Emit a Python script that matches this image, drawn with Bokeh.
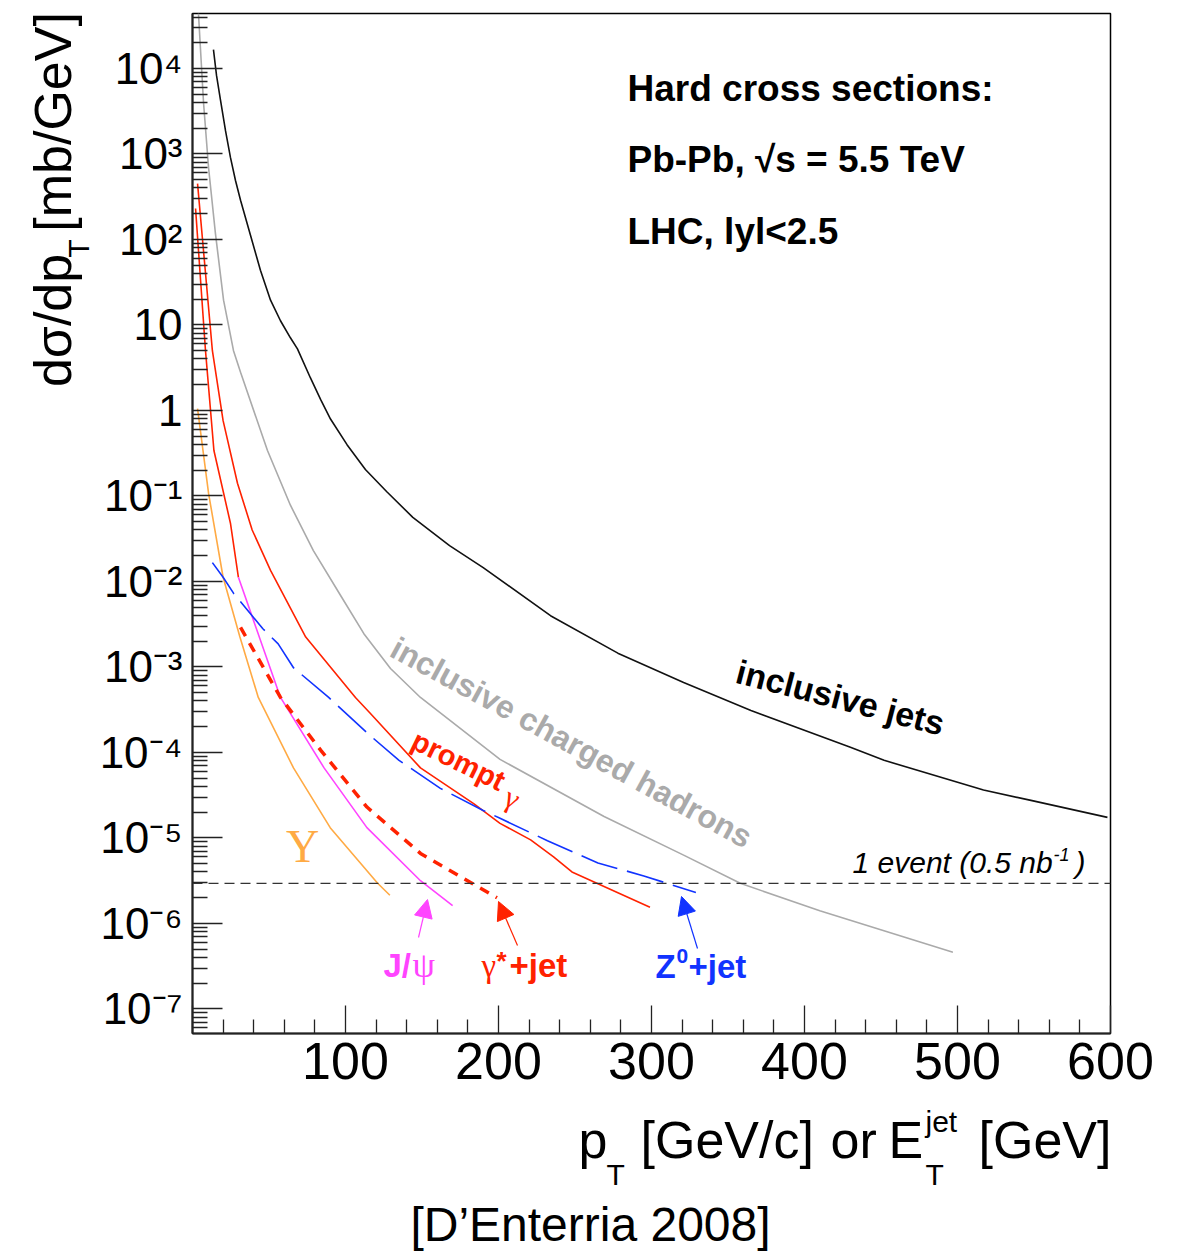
from bokeh.plotting import figure
from bokeh.layouts import row, column
from bokeh.models import Range1d, FixedTicker, Label, Span, Arrow, NormalHead
from bokeh.embed import file_html
from bokeh.resources import INLINE

# ---------------- data ----------------
jets_pt = [13.7, 15.7, 18.3, 21.6, 24.8, 28.1, 31.4, 37.9, 44.4, 51, 57.5, 64, 68.6, 77.1, 83.7, 90.2, 101,
           113, 127, 144, 168, 190, 234, 278, 321, 365, 430, 452, 517, 548, 598]
jets_xs = [1.66e4, 8.3e3, 4.27e3, 1.86e3, 9.12e2, 4.9e2, 2.88e2, 1.12e2, 43.7, 19.5, 11.2, 7.08, 5.25, 2.4, 1.35,
           0.794, 0.398, 0.204, 0.112, 0.0562, 0.0263, 0.0145, 3.98e-3, 1.45e-3, 6.6e-4, 3.09e-4, 1.15e-4,
           8.1e-5, 3.63e-5, 2.75e-5, 1.74e-5]

hadrons_pt = [3.9, 7.2, 10.5, 15, 20.3, 26.8, 31.4, 49, 64, 79, 96.7, 112, 129.4, 149, 201, 269, 321, 358, 410, 497]
hadrons_xs = [4.4e4, 4.0e3, 6.9e2, 1.17e2, 19.5, 5.0, 2.8, 0.34, 0.078, 0.023, 6.9e-3, 2.45e-3, 9.6e-4,
              4.4e-4, 8.3e-5, 1.78e-5, 6.3e-6, 2.95e-6, 1.41e-6, 4.6e-7]

prompt_pt = [3.3, 13, 20, 29.4, 39, 51, 74, 106.5, 116, 149, 184, 201, 221, 236, 248, 299]
prompt_xs = [4.5e2, 5.0, 0.76, 0.141, 0.040, 0.0135, 2.24e-3, 4.4e-4, 2.9e-4, 6.6e-5, 2.5e-5, 1.48e-5,
             9.5e-6, 6.0e-6, 4.0e-6, 1.55e-6]

jpsi_lo_pt = [2.0, 8.5, 14, 24.8, 30]
jpsi_lo_xs = [2.3e2, 5.0, 0.34, 0.048, 0.0112]
jpsi_pt = [30, 57.5, 86, 114, 149, 170]
jpsi_xs = [0.0112, 4.4e-4, 6.6e-5, 1.32e-5, 3.16e-6, 1.62e-6]

upsilon_pt = [3.3, 10.5, 20, 31, 43, 66, 90, 121, 129]
upsilon_xs = [1.05, 0.107, 0.0112, 2.24e-3, 4.4e-4, 6.6e-5, 1.32e-5, 2.95e-6, 2.14e-6]

gstar_pt = [31.4, 57.5, 84, 114, 149, 182, 199]
gstar_xs = [2.9e-3, 4.4e-4, 1.05e-4, 2.3e-5, 6.6e-6, 3.0e-6, 2.0e-6]

z0_pt = [13, 20, 27, 46, 56, 66, 89, 116, 135, 162, 190, 201, 221, 232, 265, 295, 329]
z0_xs = [0.0166, 0.0112, 7.2e-3, 2.8e-3, 1.86e-3, 9.8e-4, 4.4e-4, 1.58e-4, 8.1e-5, 3.8e-5, 2.1e-5, 1.7e-5,
         1.15e-5, 9.3e-6, 5.1e-6, 3.6e-6, 2.3e-6]

one_event = 2.95e-6

x_major = [0, 100, 200, 300, 400, 500, 600]
x_minor = [v for v in range(20, 600, 20) if v % 100 != 0]
y_exps = list(range(-7, 5))
y_labels = {-7: "10\u207b\u2077", -6: "10\u207b\u2076", -5: "10\u207b\u2075", -4: "10\u207b\u2074",
            -3: "10\u207b\u00b3", -2: "10\u207b\u00b2", -1: "10\u207b\u00b9", 0: "1", 1: "10",
            2: "10\u00b2", 3: "10\u00b3", 4: "10\u2074"}

# ---------------- layout ----------------
W, H = 1187, 1253
YT_W = 94                      # width of the strip holding the y title
FL, FR, FT, FB = 192, 1110, 13, 1033   # frame edges in page pixels
TOP_H = 1103                   # height of the main figure
XMIN, XMAX = 0, 600
LTOP, LBOT = 4.643, -7.287

SANS = "Liberation Sans"
SERIF = "Liberation Serif"
RED = "#ff2200"
MAG = "#ff44ff"
BLUE = "#1133ff"
ORANGE = "#ffaa44"
GRAY = "#aaaaaa"
MID = 0.35                     # centre of text above the baseline, in em

p = figure(width=W - YT_W, height=TOP_H, output_backend="svg", toolbar_location=None, y_axis_type="log",
           x_range=Range1d(XMIN, XMAX), y_range=Range1d(10 ** LBOT, 10 ** LTOP),
           min_border_left=FL - YT_W, min_border_right=W - FR, min_border_top=FT,
           min_border_bottom=TOP_H - FB)
p.xgrid.visible = False
p.ygrid.visible = False
p.outline_line_color = "black"
p.outline_line_width = 1.5


def X(px):
    return XMIN + (px - FL) * (XMAX - XMIN) / (FR - FL)


def Y(py):
    return 10 ** (LTOP - (py - FT) * (LTOP - LBOT) / (FB - FT))


# axes
p.xaxis.ticker = FixedTicker(ticks=x_major, minor_ticks=x_minor)
p.xaxis.major_label_overrides = {0: ""}
p.xaxis.major_label_text_font = SANS
p.xaxis.major_label_text_font_size = "52px"
p.xaxis.major_label_text_color = "black"
p.xaxis.major_label_standoff = 9
p.xaxis.major_tick_in = 28
p.xaxis.major_tick_out = 0
p.xaxis.minor_tick_in = 14
p.xaxis.minor_tick_out = 0

y_major = [10.0 ** e for e in y_exps]
y_minor = [m * 10.0 ** e for e in range(-8, 5) for m in range(2, 10)
           if 10 ** LBOT < m * 10.0 ** e < 10 ** LTOP]
p.yaxis.ticker = FixedTicker(ticks=y_major, minor_ticks=y_minor)
p.yaxis.major_label_overrides = {10.0 ** e: y_labels[e] for e in y_exps}
p.yaxis.major_label_text_font = SANS
p.yaxis.major_label_text_font_size = "44px"
p.yaxis.major_label_text_color = "black"
p.yaxis.major_label_standoff = 10
p.yaxis.major_tick_in = 30
p.yaxis.major_tick_out = 0
p.yaxis.minor_tick_in = 15
p.yaxis.minor_tick_out = 0

for ax in (p.xaxis[0], p.yaxis[0]):
    ax.axis_line_width = 2
    ax.axis_line_color = "#222222"
    ax.major_tick_line_color = "#222222"
    ax.minor_tick_line_color = "#222222"
    ax.major_tick_line_width = 1.3
    ax.minor_tick_line_width = 1.3

# curves
p.line(jets_pt, jets_xs, line_color="#111111", line_width=1.6)
p.line(hadrons_pt, hadrons_xs, line_color=GRAY, line_width=1.6)
p.line(prompt_pt, prompt_xs, line_color=RED, line_width=1.6)
p.line(jpsi_lo_pt, jpsi_lo_xs, line_color=RED, line_width=1.6)
p.line(jpsi_pt, jpsi_xs, line_color=MAG, line_width=1.6)
p.line(upsilon_pt, upsilon_xs, line_color=ORANGE, line_width=1.6)
p.line(gstar_pt, gstar_xs, line_color=RED, line_width=3.5, line_dash="10 8")
p.line(z0_pt, z0_xs, line_color=BLUE, line_width=1.6, line_dash="38 10")

p.add_layout(Span(location=one_event, dimension="width", line_color="#333333",
                  line_width=1.2, line_dash="10 6"))


def lab(fig, xf, yf, text, px, py, size, color="black", style="normal", font=SANS, align="left",
        angle=0, base=True):
    """px, py in page pixels; py is the baseline when base=True, else the text centre."""
    if base:
        if angle == 90:
            px = px - MID * size
        else:
            py = py - MID * size
    fig.add_layout(Label(x=xf(px), y=yf(py), text=text, text_font=font, text_font_size=f"{size}px",
                         text_font_style=style, text_color=color, text_align=align,
                         text_baseline="middle", angle=angle, angle_units="deg"))


def L(*a, **k):
    lab(p, X, Y, *a, **k)


def arrow(x0, y0, x1, y1, color):
    p.add_layout(Arrow(end=NormalHead(size=18, fill_color=color, line_color=color, line_width=1),
                       x_start=X(x0), y_start=Y(y0), x_end=X(x1), y_end=Y(y1),
                       line_color=color, line_width=1.2))


# info box
L("Hard cross sections:", 627, 101, 37, style="bold")
L("Pb-Pb, \u221as = 5.5 TeV", 627, 172, 37, style="bold")
L("LHC, lyl<2.5", 627, 244, 37, style="bold")

# curve labels
L("inclusive jets", 840, 697, 34, style="bold", align="center", angle=-14.5, base=False)
L("inclusive charged hadrons", 571, 742, 32, color=GRAY, style="bold", align="center",
  angle=-28.5, base=False)
L("prompt", 458, 760, 29, color=RED, style="bold", align="center", angle=-26, base=False)
L("\u03b3", 512, 797, 30, color=RED, font=SERIF, align="center", angle=-26, base=False)
L("\u03a5", 302, 846, 46, color=ORANGE, font=SERIF, align="center", base=False)

L("J/", 383, 977, 33, color=MAG, style="bold")
L("\u03c8", 412, 977, 36, color=MAG, font=SERIF)
arrow(418, 937, 427, 899, MAG)

L("\u03b3", 481, 977, 33, color=RED, font=SERIF)
L("*", 496, 970, 26, color=RED, style="bold")
L("+jet", 509, 977, 33, color=RED, style="bold")
arrow(517, 945, 498, 901, RED)

L("Z", 655, 978, 33, color=BLUE, style="bold")
L("0", 676, 963, 21, color=BLUE, style="bold")
L("+jet", 688, 978, 33, color=BLUE, style="bold")
arrow(697, 948, 681, 896, BLUE)

L("1 event (0.5 nb", 852, 872, 30, style="italic")
L("-1", 1053, 860, 18, style="italic")
L(")", 1075, 872, 30, style="italic")

# ---------------- y title strip (page-pixel coordinates) ----------------
yt = figure(width=YT_W, height=TOP_H, output_backend="svg", toolbar_location=None,
            x_range=Range1d(0, YT_W), y_range=Range1d(TOP_H, 0), min_border=0,
            x_axis_location=None, y_axis_location=None)
yt.xgrid.visible = False
yt.ygrid.visible = False
yt.outline_line_color = None


def ident(v):
    return v


lab(yt, ident, ident, "d\u03c3/dp", 71, 404, 52, angle=90)
lab(yt, ident, ident, "T", 88, 264, 30, angle=90)
lab(yt, ident, ident, "[mb/GeV]", 71, 236, 52, angle=90)

# ---------------- bottom strip (page-pixel coordinates) ----------------
bt = figure(width=W, height=H - TOP_H, output_backend="svg", toolbar_location=None,
            x_range=Range1d(0, W), y_range=Range1d(H, TOP_H), min_border=0,
            x_axis_location=None, y_axis_location=None)
bt.xgrid.visible = False
bt.ygrid.visible = False
bt.outline_line_color = None

lab(bt, ident, ident, "p", 578, 1158, 52)
lab(bt, ident, ident, "T", 606, 1184, 30)
lab(bt, ident, ident, "[GeV/c]", 640, 1158, 52)
lab(bt, ident, ident, "or", 830, 1158, 52)
lab(bt, ident, ident, "E", 888, 1158, 52)
lab(bt, ident, ident, "jet", 925, 1131, 30)
lab(bt, ident, ident, "T", 925, 1184, 30)
lab(bt, ident, ident, "[GeV]", 978, 1158, 52)
lab(bt, ident, ident, "[D\u2019Enterria 2008]", 590, 1241, 48, align="center")

layout = column(row(yt, p, spacing=0), bt, spacing=0)
open("out.html", "w").write(file_html(layout, INLINE))
